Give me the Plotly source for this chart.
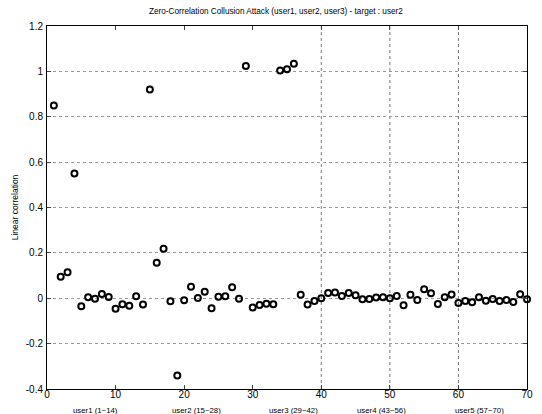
import plotly.graph_objects as go

idx = list(range(1, 71))
corr = [0.85, 0.095, 0.115, 0.55, -0.035, 0.004, -0.002, 0.019, 0.006, -0.046,
        -0.026, -0.033, 0.009, -0.028, 0.92, 0.156, 0.218, -0.013, -0.34, -0.009,
        0.051, 0.001, 0.029, -0.044, 0.007, 0.009, 0.049, -0.002, 1.024, -0.041,
        -0.030, -0.024, -0.026, 1.004, 1.009, 1.034, 0.015, -0.028, -0.012, 0.0,
        0.023, 0.025, 0.01, 0.023, 0.013, -0.004, -0.003, 0.003, 0.004, 0.0,
        0.01, -0.031, 0.015, -0.008, 0.04, 0.022, -0.025, 0.004, 0.016, -0.021,
        -0.012, -0.018, 0.004, -0.011, -0.003, -0.012, -0.008, -0.016, 0.018, -0.004]

user_labels = ["user1 (1~14)", "user2 (15~28)", "user3 (29~42)", "user4 (43~56)", "user5 (57~70)"]
user_centers = [7, 21.8, 36, 48.8, 63]

xticks = [0, 10, 20, 30, 40, 50, 60, 70]
yticks = [-0.4, -0.2, 0, 0.2, 0.4, 0.6, 0.8, 1, 1.2]
yticktext = ["-0.4", "-0.2", "0", "0.2", "0.4", "0.6", "0.8", "1", "1.2"]
vgrid = [40, 50, 60]

FONT = "Liberation Sans, Arial, sans-serif"

fig = go.Figure()
fig.add_trace(go.Scatter(
    x=idx, y=corr, mode="markers",
    marker=dict(symbol="circle-open", size=6, color="black", line=dict(width=2, color="black")),
    showlegend=False, cliponaxis=False,
))

for v in vgrid:
    fig.add_shape(type="line", xref="x", yref="paper", x0=v, x1=v, y0=0, y1=1,
                  line=dict(color="#777", width=1, dash="dot"), layer="below")

for lab, c in zip(user_labels, user_centers):
    fig.add_annotation(x=c, y=0, xref="x", yref="paper", yshift=-21, text=lab,
                       showarrow=False, yanchor="middle",
                       font=dict(family=FONT, size=7.8, color="black"))

fig.update_layout(
    width=542, height=414,
    margin=dict(l=47, r=9, t=26, b=25),
    paper_bgcolor="white", plot_bgcolor="white",
    title=dict(text="Zero-Correlation Collusion Attack (user1, user2, user3) - target : user2",
               x=0.509, xanchor="center", y=0.973, yanchor="middle",
               font=dict(family=FONT, size=8.2, color="black")),
    font=dict(family=FONT, color="black"),
)
fig.update_xaxes(range=[0, 70], tickvals=xticks, ticks="inside", ticklen=4,
                 showgrid=False, zeroline=False, showline=True, linecolor="black",
                 linewidth=1, mirror="ticks", tickfont=dict(size=10, family=FONT),
                 ticklabelstandoff=-4)
fig.update_yaxes(range=[-0.4, 1.2], tickvals=yticks, ticktext=yticktext, ticks="inside",
                 ticklen=4, showgrid=True, gridcolor="#999", griddash="dot", gridwidth=1,
                 zeroline=False, showline=True, linecolor="black", linewidth=1,
                 mirror="ticks", tickfont=dict(size=10, family=FONT), ticklabelstandoff=1,
                 title=dict(text="Linear correlation", font=dict(size=8.5, family=FONT), standoff=5))

fig.write_html("out.html")
